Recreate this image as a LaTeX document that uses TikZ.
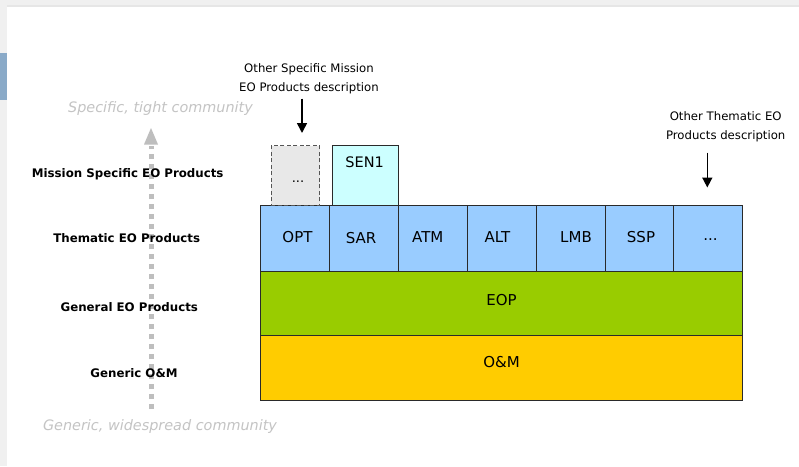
\documentclass[tikz,border=0pt]{standalone}
\usepackage{fontspec}
\setmainfont{DejaVu Sans}
\usetikzlibrary{arrows.meta}
\definecolor{thblue}{HTML}{99CCFF}
\definecolor{eopgreen}{HTML}{99CC00}
\definecolor{omyellow}{HTML}{FFCC00}
\definecolor{senc}{HTML}{CCFFFF}
\definecolor{dashgray}{HTML}{E8E8E8}
\definecolor{comgray}{HTML}{C4C4C4}
\definecolor{arrgray}{HTML}{BEBEBE}
\definecolor{edgegray}{HTML}{F0F0F0}
\definecolor{edgeline}{HTML}{E6E6E6}
\definecolor{sideblue}{HTML}{8AAAC8}
\definecolor{linec}{HTML}{2A2A2A}
\tikzset{
  cell/.style={draw=linec, line width=1pt, fill=thblue, minimum width=68.9pt, minimum height=65.5pt, inner sep=0pt},
  celltext/.style={font=\fontsize{15}{17}\selectfont, inner sep=0pt},
  layer/.style={draw=linec, line width=1pt, minimum width=482pt, minimum height=64.5pt, inner sep=0pt},
  rowlabel/.style={font=\bfseries\fontsize{11.8}{14}\selectfont, text=black, inner sep=0pt},
  note/.style={font=\fontsize{11.7}{19}\selectfont, align=center, text=black, inner sep=0pt},
  community/.style={font=\itshape\fontsize{14.4}{16}\selectfont, text=comgray, inner sep=0pt},
  downarrow/.style={-{Triangle[length=10pt,width=10pt]}, line width=1.6pt, black}
}
\begin{document}
\begin{tikzpicture}[x=1pt,y=-1pt]
\useasboundingbox (0,0) rectangle (799,466);
\fill[white] (0,0) rectangle (799,466);
% window edges
\fill[edgegray] (0,0) rectangle (799,6);
\fill[edgeline] (0,5) rectangle (799,6.5);
\fill[edgegray] (0,0) rectangle (6.5,466);
\fill[sideblue] (0,53) rectangle (6.5,100);

% layers
\node[layer, fill=omyellow, anchor=north west] (om) at (260,335.3) {};
\node[celltext] (omt) at (501.5,362) {O\&M};
\node[layer, fill=eopgreen, anchor=north west] (eop) at (260,270.8) {};
\node[celltext] (eopt) at (501.5,300) {EOP};

% thematic cells
\node[cell, anchor=north west] (opt) at (260,205.3) {};
\node[celltext] (optt) at (297.5,237.5) {OPT};
\node[cell, anchor=north west] (sar) at (328.9,205.3) {};
\node[celltext] (sart) at (361,238.5) {SAR};
\node[cell, anchor=north west] (atm) at (397.8,205.3) {};
\node[celltext] (atmt) at (427.8,237.5) {ATM};
\node[cell, anchor=north west] (alt) at (466.7,205.3) {};
\node[celltext] (altt) at (497.5,237.5) {ALT};
\node[cell, anchor=north west] (lmb) at (535.6,205.3) {};
\node[celltext] (lmbt) at (576,237.5) {LMB};
\node[cell, anchor=north west] (ssp) at (604.5,205.3) {};
\node[celltext] (sspt) at (641,237.5) {SSP};
\node[cell, anchor=north west] (more) at (673.4,205.3) {};
\node[celltext] (moret) at (710.5,240) {...};

% mission specific
\node[draw=linec, line width=1pt, fill=senc, minimum width=66pt, minimum height=60.3pt, inner sep=0pt, anchor=north west] (sen) at (331.7,145) {};
\node[celltext, font=\fontsize{14.5}{17}\selectfont] (sent) at (364.7,162.5) {SEN1};
\node[draw=linec!80, line width=1pt, dash pattern=on 4pt off 2.5pt, fill=dashgray, minimum width=48.3pt, minimum height=59.5pt, inner sep=0pt, anchor=north west] (dbox) at (270.7,145) {};
\node[celltext, font=\fontsize{13}{15}\selectfont] (dboxt) at (298,182) {...};

% notes
\node[note] (n1) at (309,78.5) {Other Specific Mission\\EO Products description};
\coordinate (n1a) at (302,98.5);
\coordinate (n1b) at (302,133);
\draw[downarrow] (n1a) -- (n1b);
\node[note] (n2) at (725.7,127) {Other Thematic EO\\Products description};
\coordinate (n2a) at (707.3,152.5);
\coordinate (n2b) at (707.3,187.5);
\draw[downarrow] (n2a) -- (n2b);

% gray vertical dotted arrow
\coordinate (ga) at (151,409);
\coordinate (gb) at (151,146);
\draw[arrgray, line width=5pt, dash pattern=on 5pt off 5pt] (ga) -- (gb);
\fill[arrgray] (151,128) -- (158,144.5) -- (144,144.5) -- cycle;

% row labels
\node[rowlabel] (l1) at (127.7,174) {Mission Specific EO Products};
\node[rowlabel] (l2) at (126.7,238.5) {Thematic EO Products};
\node[rowlabel] (l3) at (129.3,307.5) {General EO Products};
\node[rowlabel] (l4) at (134,373) {Generic O\&M};

% community labels
\node[community] (c1) at (160.5,109) {Specific, tight community};
\node[community] (c2) at (160,427) {Generic, widespread community};
\end{tikzpicture}
\end{document}
